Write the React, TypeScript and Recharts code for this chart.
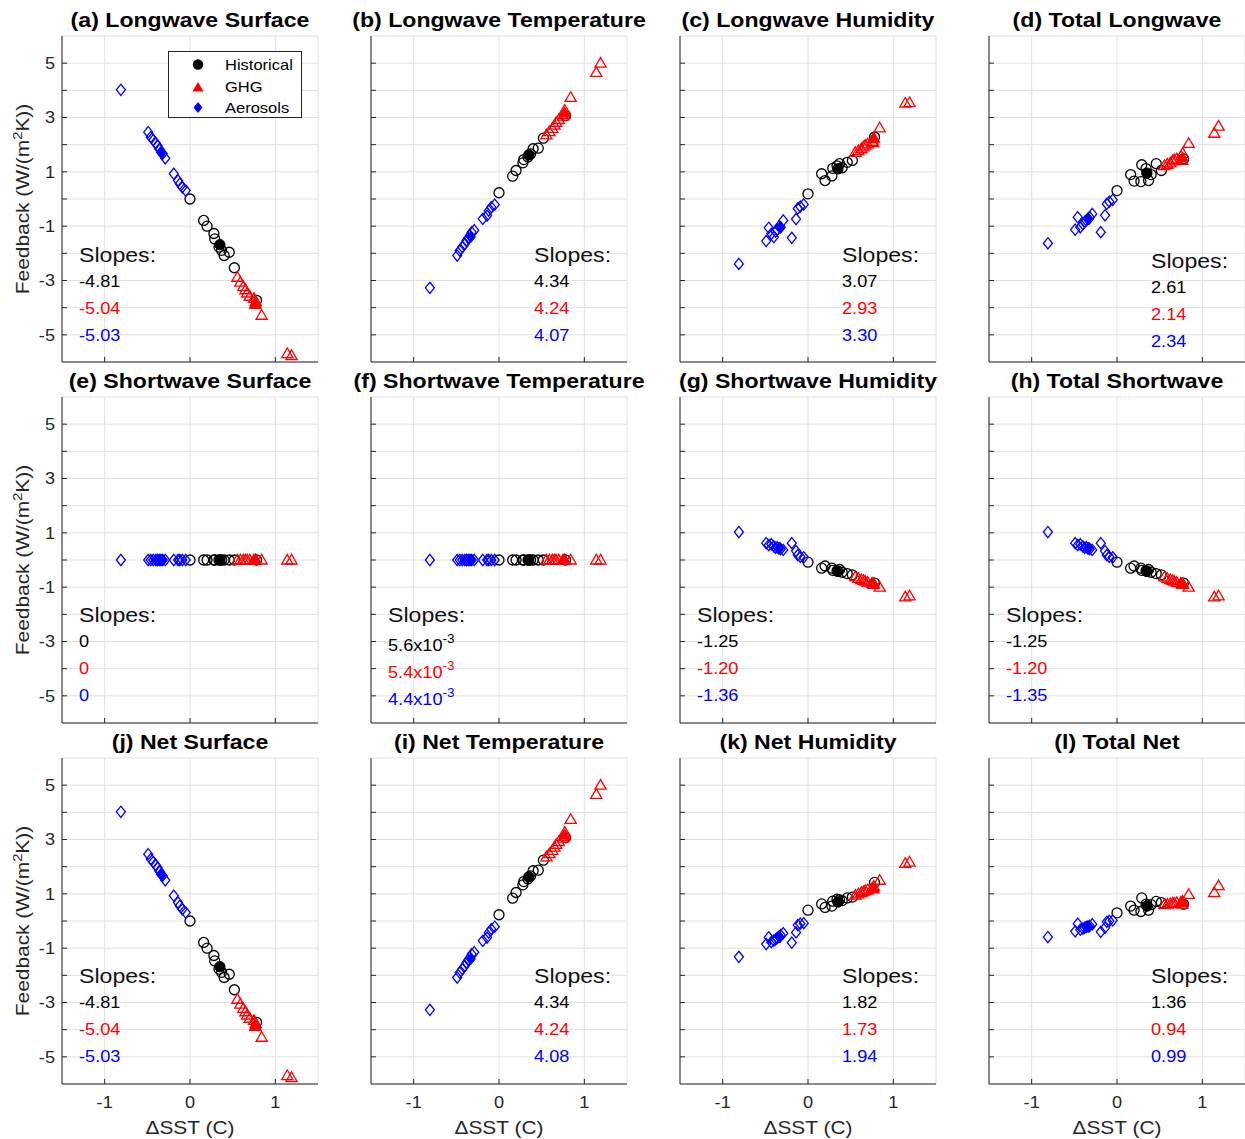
import React from 'react';
import { ScatterChart, Scatter, XAxis, YAxis, CartesianGrid } from 'recharts';

// ---------- shared ΔSST (x) values per ensemble member ----------
const aerX = [-0.81, -0.49, -0.46, -0.43, -0.4, -0.38, -0.36, -0.34, -0.32, -0.29, -0.19, -0.14, -0.12, -0.09, -0.05];
const histX = [0.0, 0.16, 0.2, 0.28, 0.29, 0.34, 0.37, 0.4, 0.46, 0.52, 0.78];
const ghgX = [0.555, 0.59, 0.625, 0.65, 0.67, 0.7, 0.75, 0.77, 0.765, 0.84, 1.14, 1.19];
const meanXHist = 0.35;
const meanXGhg = 0.77;
const meanXAer = -0.33;

// ---------- feedback (y) values per panel ----------
// Longwave surface
const lwSurfAer = [4.02, 2.46, 2.28, 2.17, 2.05, 1.96, 1.84, 1.72, 1.67, 1.5, 0.93, 0.68, 0.56, 0.43, 0.31];
const lwSurfHist = [0.0, -0.79, -1.0, -1.27, -1.47, -1.77, -1.89, -2.08, -1.96, -2.53, -3.73];
const lwSurfGhg = [-2.88, -3.06, -3.22, -3.34, -3.46, -3.58, -3.66, -3.78, -3.88, -4.28, -5.69, -5.76];
const lwSurfMeans = [-1.68, -3.85, 1.7];
// Longwave temperature
const lwTempAer = [-3.27, -2.08, -1.9, -1.77, -1.65, -1.53, -1.44, -1.34, -1.22, -1.15, -0.73, -0.61, -0.43, -0.3, -0.21];
const lwTempHist = [0.23, 0.84, 1.05, 1.33, 1.45, 1.55, 1.66, 1.85, 1.87, 2.24, 3.07];
const lwTempGhg = [2.36, 2.48, 2.6, 2.72, 2.82, 2.92, 3.05, 3.27, 3.12, 3.74, 4.66, 5.0];
const lwTempMeans = [1.63, 3.17, -1.4];
// Longwave humidity
const lwHumAer = [-2.39, -1.55, -1.06, -1.28, -1.4, -1.2, -1.13, -1.01, -1.04, -0.79, -1.43, -0.74, -0.35, -0.28, -0.2];
const lwHumHist = [0.19, 0.93, 0.68, 0.85, 1.13, 1.22, 1.3, 1.15, 1.35, 1.42, 2.28];
const lwHumGhg = [1.72, 1.78, 1.85, 1.92, 1.98, 2.03, 2.12, 2.25, 2.08, 2.62, 3.53, 3.55];
const lwHumMeans = [1.11, 2.22, -1.05];
// Total longwave
const lwTotAer = [-1.63, -1.13, -0.67, -1.04, -0.92, -0.85, -0.79, -0.72, -0.67, -0.55, -1.22, -0.6, -0.18, -0.1, -0.03];
const lwTotHist = [0.31, 0.9, 0.66, 0.64, 1.26, 1.12, 0.68, 0.9, 1.3, 1.05, 1.48];
const lwTotGhg = [1.23, 1.28, 1.33, 1.4, 1.45, 1.48, 1.58, 1.68, 1.42, 2.05, 2.42, 2.68];
const lwTotMeans = [0.95, 1.52, -0.75];
// Shortwave surface / temperature (flat)
const swFlatAer = [0, 0, 0, 0, 0, 0, 0, 0, 0, 0, 0, 0, 0, 0, 0];
const swFlatHist = [0, 0, 0, 0, 0, 0, 0, 0, 0, 0, 0];
const swFlatGhg = [0, 0, 0, 0, 0, 0, 0, 0, 0, 0, 0, 0];
const swFlatMeans = [0, 0, 0];
// Shortwave humidity (and total shortwave)
const swHumAer = [1.03, 0.62, 0.55, 0.58, 0.5, 0.45, 0.47, 0.42, 0.4, 0.37, 0.62, 0.33, 0.18, 0.12, 0.1];
const swHumHist = [-0.08, -0.3, -0.22, -0.3, -0.38, -0.4, -0.35, -0.45, -0.5, -0.55, -0.85];
const swHumGhg = [-0.62, -0.68, -0.72, -0.75, -0.78, -0.82, -0.85, -0.9, -0.88, -1.0, -1.36, -1.32];
const swHumMeans = [-0.42, -0.85, 0.45];
// Net humidity
const netHumAer = [-1.32, -0.85, -0.6, -0.78, -0.72, -0.68, -0.62, -0.58, -0.52, -0.45, -0.8, -0.42, -0.15, -0.1, -0.08];
const netHumHist = [0.4, 0.63, 0.5, 0.55, 0.73, 0.8, 0.78, 0.75, 0.85, 0.88, 1.42];
const netHumGhg = [0.95, 1.0, 1.05, 1.08, 1.12, 1.15, 1.2, 1.28, 1.18, 1.5, 2.12, 2.17];
const netHumMeans = [0.7, 1.2, -0.6];
// Total net
const netTotAer = [-0.59, -0.38, -0.1, -0.32, -0.28, -0.25, -0.22, -0.2, -0.18, -0.12, -0.4, -0.25, -0.03, 0.0, 0.02];
const netTotHist = [0.3, 0.55, 0.4, 0.35, 0.85, 0.62, 0.4, 0.6, 0.72, 0.68, 0.62];
const netTotGhg = [0.6, 0.62, 0.64, 0.66, 0.66, 0.68, 0.7, 0.72, 0.62, 0.98, 1.05, 1.3];
const netTotMeans = [0.55, 0.68, -0.22];

// ---------- ticks ----------
const xTicks = [-1, 0, 1];
const yTicks = [-5, -4, -3, -2, -1, 0, 1, 2, 3, 4, 5];
const yTickLabels = [-5, -3, -1, 1, 3, 5];

const titles = [
  '(a) Longwave Surface', '(b) Longwave Temperature', '(c) Longwave Humidity', '(d) Total Longwave',
  '(e) Shortwave Surface', '(f) Shortwave Temperature', '(g) Shortwave Humidity', '(h) Total Shortwave',
  '(j) Net Surface', '(i) Net Temperature', '(k) Net Humidity', '(l) Total Net',
];
const slopeTexts = [
  ['-4.81', '-5.04', '-5.03'], ['4.34', '4.24', '4.07'], ['3.07', '2.93', '3.30'], ['2.61', '2.14', '2.34'],
  ['0', '0', '0'], ['5.6x10|-3', '5.4x10|-3', '4.4x10|-3'], ['-1.25', '-1.20', '-1.36'], ['-1.25', '-1.20', '-1.35'],
  ['-4.81', '-5.04', '-5.03'], ['4.34', '4.24', '4.08'], ['1.82', '1.73', '1.94'], ['1.36', '0.94', '0.99'],
];
const seriesSets = [
  [lwSurfHist, lwSurfGhg, lwSurfAer, lwSurfMeans],
  [lwTempHist, lwTempGhg, lwTempAer, lwTempMeans],
  [lwHumHist, lwHumGhg, lwHumAer, lwHumMeans],
  [lwTotHist, lwTotGhg, lwTotAer, lwTotMeans],
  [swFlatHist, swFlatGhg, swFlatAer, swFlatMeans],
  [swFlatHist, swFlatGhg, swFlatAer, swFlatMeans],
  [swHumHist, swHumGhg, swHumAer, swHumMeans],
  [swHumHist, swHumGhg, swHumAer, swHumMeans],
  [lwSurfHist, lwSurfGhg, lwSurfAer, lwSurfMeans],
  [lwTempHist, lwTempGhg, lwTempAer, lwTempMeans],
  [netHumHist, netHumGhg, netHumAer, netHumMeans],
  [netTotHist, netTotGhg, netTotAer, netTotMeans],
];

// ---------- layout ----------
const COLS = [62, 371, 680, 989];
const ROWS = [36, 397, 758];
const PW = 256;
const PH = 326;
const FONT = '"Liberation Sans", Arial, Helvetica, sans-serif';
const AX = '#262626';
const SX = 1.1;
const slopePos = [
  [17, 218], [163, 218], [162, 218], [162, 224],
  [17, 217], [17, 217], [17, 217], [17, 217],
  [17, 217], [163, 217], [162, 217], [162, 217],
];

const zip = (xs: number[], ys: number[]) => xs.map((x, i) => ({ x, y: ys[i] }));

const OpenCircle = (p: any) => <circle cx={p.cx} cy={p.cy} r={5} fill="none" stroke="#000" strokeWidth={1.3} />;
const FilledCircle = (p: any) => <circle cx={p.cx} cy={p.cy} r={5.2} fill="#000" stroke="#000" strokeWidth={1} />;
const triPts = (cx: number, cy: number) => `${cx},${cy - 5.6} ${cx - 5.6},${cy + 4} ${cx + 5.6},${cy + 4}`;
const diaPts = (cx: number, cy: number) => `${cx},${cy - 5.6} ${cx + 4.5},${cy} ${cx},${cy + 5.6} ${cx - 4.5},${cy}`;
const OpenTri = (p: any) => <polygon points={triPts(p.cx, p.cy)} fill="none" stroke="#ff0000" strokeWidth={1.3} />;
const FilledTri = (p: any) => <polygon points={triPts(p.cx, p.cy)} fill="#ff0000" stroke="#ff0000" strokeWidth={1} />;
const OpenDia = (p: any) => <polygon points={diaPts(p.cx, p.cy)} fill="none" stroke="#0000ff" strokeWidth={1.3} />;
const FilledDia = (p: any) => <polygon points={diaPts(p.cx, p.cy)} fill="#0000ff" stroke="#0000ff" strokeWidth={1} />;

function Txt({ x, y, size, children, color = '#000', bold = false, center = false, sx = SX }: any) {
  return (
    <div
      style={{
        position: 'absolute', left: x, top: y - size / 2, fontSize: size, lineHeight: `${size}px`,
        fontFamily: FONT, fontWeight: bold ? 'bold' : 'normal', color, whiteSpace: 'nowrap',
        transform: center ? `translateX(-50%) scaleX(${sx})` : `scaleX(${sx})`,
        transformOrigin: center ? 'center center' : 'left center',
      }}
    >
      {children}
    </div>
  );
}

function SlopeValue({ s }: { s: string }) {
  if (s.includes('|')) {
    const [base, sup] = s.split('|');
    return (
      <span>
        {base}
        <span style={{ fontSize: '0.75em', position: 'relative', top: '-0.6em' }}>{sup}</span>
      </span>
    );
  }
  return <span>{s}</span>;
}

function Panel({ idx }: { idx: number }) {
  const col = idx % 4;
  const row = Math.floor(idx / 4);
  const [hY, gY, aY, means] = seriesSets[idx];
  const showY = col === 0;
  const showX = row === 2;
  const xTick = (p: any) => {
    if (!showX) return <g />;
    return (
      <text transform={`translate(${p.x},${p.y + 18.5}) scale(${SX},1)`} textAnchor="middle" dy="0.35em"
        fontSize={16.5} fontFamily={FONT} fill={AX}>{p.payload.value}</text>
    );
  };
  const yTick = (p: any) => {
    if (!showY || !yTickLabels.includes(p.payload.value)) return <g />;
    return (
      <text transform={`translate(${p.x - 7},${p.y}) scale(${SX},1)`} textAnchor="end" dy="0.35em"
        fontSize={16.5} fontFamily={FONT} fill={AX}>{p.payload.value}</text>
    );
  };
  return (
    <div style={{ position: 'absolute', left: COLS[col] - 60, top: ROWS[row] - 10 }}>
      <ScatterChart width={326} height={386} margin={{ top: 10, right: 10, left: 20, bottom: 0 }}>
        <CartesianGrid stroke="#e0e0e0" strokeWidth={1} />
        <XAxis type="number" dataKey="x" domain={[-1.5, 1.5]} ticks={xTicks} interval={0} height={50}
          allowDataOverflow tickSize={-5} tickMargin={5} axisLine={{ stroke: AX }} tickLine={{ stroke: AX }} tick={xTick} />
        <YAxis type="number" dataKey="y" domain={[-6, 6]} ticks={yTicks} interval={0} width={40}
          allowDataOverflow tickSize={-5} tickMargin={5} axisLine={{ stroke: AX }} tickLine={{ stroke: AX }} tick={yTick} />
        <Scatter data={zip(histX, hY)} shape={OpenCircle} isAnimationActive={false} />
        <Scatter data={zip(ghgX, gY)} shape={OpenTri} isAnimationActive={false} />
        <Scatter data={zip(aerX, aY)} shape={OpenDia} isAnimationActive={false} />
        <Scatter data={[{ x: meanXHist, y: means[0] }]} shape={FilledCircle} isAnimationActive={false} />
        <Scatter data={[{ x: meanXGhg, y: means[1] }]} shape={FilledTri} isAnimationActive={false} />
        <Scatter data={[{ x: meanXAer, y: means[2] }]} shape={FilledDia} isAnimationActive={false} />
      </ScatterChart>
    </div>
  );
}

function Overlay({ idx }: { idx: number }) {
  const col = idx % 4;
  const row = Math.floor(idx / 4);
  const left = COLS[col];
  const top = ROWS[row];
  const [dx, dy] = slopePos[idx];
  const sl = slopeTexts[idx];
  const colors = ['#000', '#ff0000', '#0000ff'];
  const sup = sl[0].includes('|');
  return (
    <>
      <Txt x={left + PW / 2} y={top - 16.5} size={21} bold center>{titles[idx]}</Txt>
      <Txt x={left + dx} y={top + dy} size={21} color="#111">Slopes:</Txt>
      {sl.map((s, i) => (
        <Txt key={i} x={left + dx} y={top + dy + 27 * (i + 1) + (sup ? 4 : 0)} size={16.5} color={colors[i]}>
          <SlopeValue s={s} />
        </Txt>
      ))}
    </>
  );
}

function YLabel({ row }: { row: number }) {
  const cy = ROWS[row] + PH / 2;
  return (
    <div style={{
      position: 'absolute', left: 23, top: cy, fontSize: 19, lineHeight: '19px', fontFamily: FONT, color: AX,
      whiteSpace: 'nowrap', transform: `translate(-50%,-50%) rotate(-90deg) scaleX(${SX})`, transformOrigin: 'center center',
    }}>
      Feedback (W/(m<span style={{ fontSize: '0.7em', position: 'relative', top: '-0.5em' }}>2</span>K))
    </div>
  );
}

function LegendBox() {
  const items = [
    { label: 'Historical', shape: <circle cx={29} cy={12.5} r={5.2} fill="#000" /> },
    { label: 'GHG', shape: <polygon points={triPts(29, 35.5)} fill="#ff0000" /> },
    { label: 'Aerosols', shape: <polygon points={diaPts(29, 55.5)} fill="#0000ff" /> },
  ];
  return (
    <div style={{ position: 'absolute', left: 168, top: 51, width: 134, height: 67, border: `1px solid ${AX}`, background: '#fff', boxSizing: 'border-box' }}>
      <svg width={134} height={67} style={{ position: 'absolute', left: 0, top: 0 }}>
        {items.map((it, i) => <g key={i}>{it.shape}</g>)}
      </svg>
      {items.map((it, i) => (
        <Txt key={i} x={56} y={[12.5, 34.5, 55][i]} size={15} color="#000">{it.label}</Txt>
      ))}
    </div>
  );
}

export default function App() {
  const idxs = Array.from({ length: 12 }, (_, i) => i);
  return (
    <div style={{ position: 'absolute', left: 0, top: 0, width: 1245, height: 1139, overflow: 'hidden', background: '#fff' }}>
      {idxs.map((i) => <Panel key={i} idx={i} />)}
      {idxs.map((i) => <Overlay key={'o' + i} idx={i} />)}
      {[0, 1, 2].map((r) => <YLabel key={r} row={r} />)}
      {COLS.map((c, i) => (
        <Txt key={'xl' + i} x={c + PW / 2} y={1127} size={19} color={AX} center>ΔSST (C)</Txt>
      ))}
      <LegendBox />
    </div>
  );
}
